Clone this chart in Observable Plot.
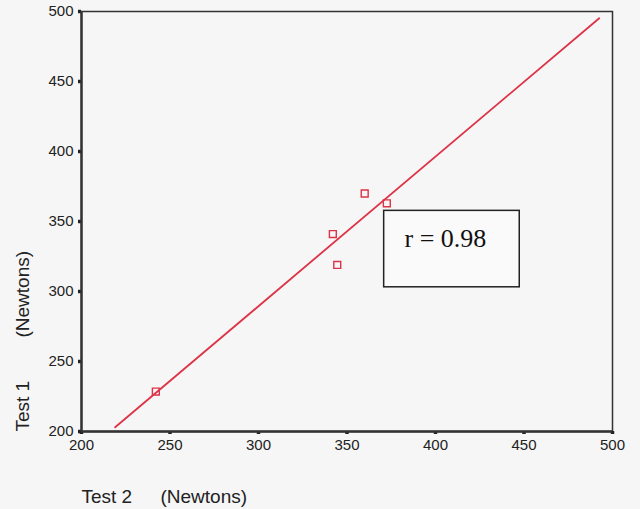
<!DOCTYPE html>
<html>
<head>
<meta charset="utf-8">
<script src="https://cdn.jsdelivr.net/npm/d3@7"></script>
<script src="https://cdn.jsdelivr.net/npm/@observablehq/plot@0.6"></script>
<style>
  html, body { margin: 0; padding: 0; background: #f6f6f6; }
  svg { display: block; }
</style>
</head>
<body>
<div id="chart"></div>
<script>
// Data
const test2 = [242, 360, 372.5, 342, 344.5];   // x: Test 2 (Newtons)
const test1 = [228.5, 370, 363, 341, 319];     // y: Test 1 (Newtons)
const fitX = [219, 492.5];                     // regression line endpoints
const fitY = [203, 495.2];
const xTicks = [200, 250, 300, 350, 400, 450, 500];
const yTicks = [200, 250, 300, 350, 400, 450, 500];
const rBoxX = [371, 447.6];
const rBoxY = [303, 357.6];
const rLabel = "r = 0.98";
const rLabelPos = [382.5, 337.5];

const points = test2.map((x, i) => ({x, y: test1[i]}));
const fit = fitX.map((x, i) => ({x, y: fitY[i]}));
const red = "#dd3347";

const chart = Plot.plot({
  width: 640,
  height: 509,
  marginLeft: 81,
  marginRight: 28,
  marginTop: 11,
  marginBottom: 78,
  style: {background: "transparent", fontFamily: "Liberation Sans, Arial, sans-serif", color: "#222", fontSize: "15px"},
  x: {domain: [200, 500], ticks: xTicks, label: null},
  y: {domain: [200, 500], ticks: yTicks, label: null},
  marks: [
    Plot.frame({stroke: "#333", strokeWidth: 1.5}),
    Plot.axisX({ticks: xTicks, tickSize: 3, tickPadding: 5, strokeWidth: 3.5, fontSize: 15, stroke: "#222", label: null}),
    Plot.axisY({ticks: yTicks, tickSize: 3, tickPadding: 5, strokeWidth: 3.5, fontSize: 15, stroke: "#222", label: null}),
    Plot.ruleY([200], {stroke: "#333", strokeWidth: 2.4}),
    Plot.ruleX([200], {stroke: "#333", strokeWidth: 2.4}),
    Plot.line(fit, {x: "x", y: "y", stroke: red, strokeWidth: 1.8}),
    Plot.dot(points, {x: "x", y: "y", symbol: "square", r: 3.9, stroke: red, strokeWidth: 1.4, fill: "none"}),
    Plot.rect([{x1: rBoxX[0], x2: rBoxX[1], y1: rBoxY[0], y2: rBoxY[1]}], {x1: "x1", x2: "x2", y1: "y1", y2: "y2", fill: "#fafafa", stroke: "#222", strokeWidth: 1.5}),
    Plot.text([rLabel], {x: rLabelPos[0], y: rLabelPos[1], text: d => d, textAnchor: "start", fontSize: 26, fontFamily: "Liberation Serif, Times New Roman, serif", fill: "#111"}),
    Plot.text(["Test 2"], {frameAnchor: "bottom-left", text: d => d, textAnchor: "start", lineAnchor: "bottom", dx: 0, dy: 71, fontSize: 19, fill: "#222"}),
    Plot.text(["(Newtons)"], {frameAnchor: "bottom-left", text: d => d, textAnchor: "start", lineAnchor: "bottom", dx: 79, dy: 71, fontSize: 19, fill: "#222"}),
    Plot.text(["Test 1"], {frameAnchor: "bottom-left", text: d => d, rotate: -90, textAnchor: "start", lineAnchor: "middle", dx: -59, dy: 0, fontSize: 19, fill: "#222"}),
    Plot.text(["(Newtons)"], {frameAnchor: "bottom-left", text: d => d, rotate: -90, textAnchor: "start", lineAnchor: "middle", dx: -59, dy: -94, fontSize: 19, fill: "#222"})
  ]
});
document.getElementById("chart").appendChild(chart);
</script>
</body>
</html>
